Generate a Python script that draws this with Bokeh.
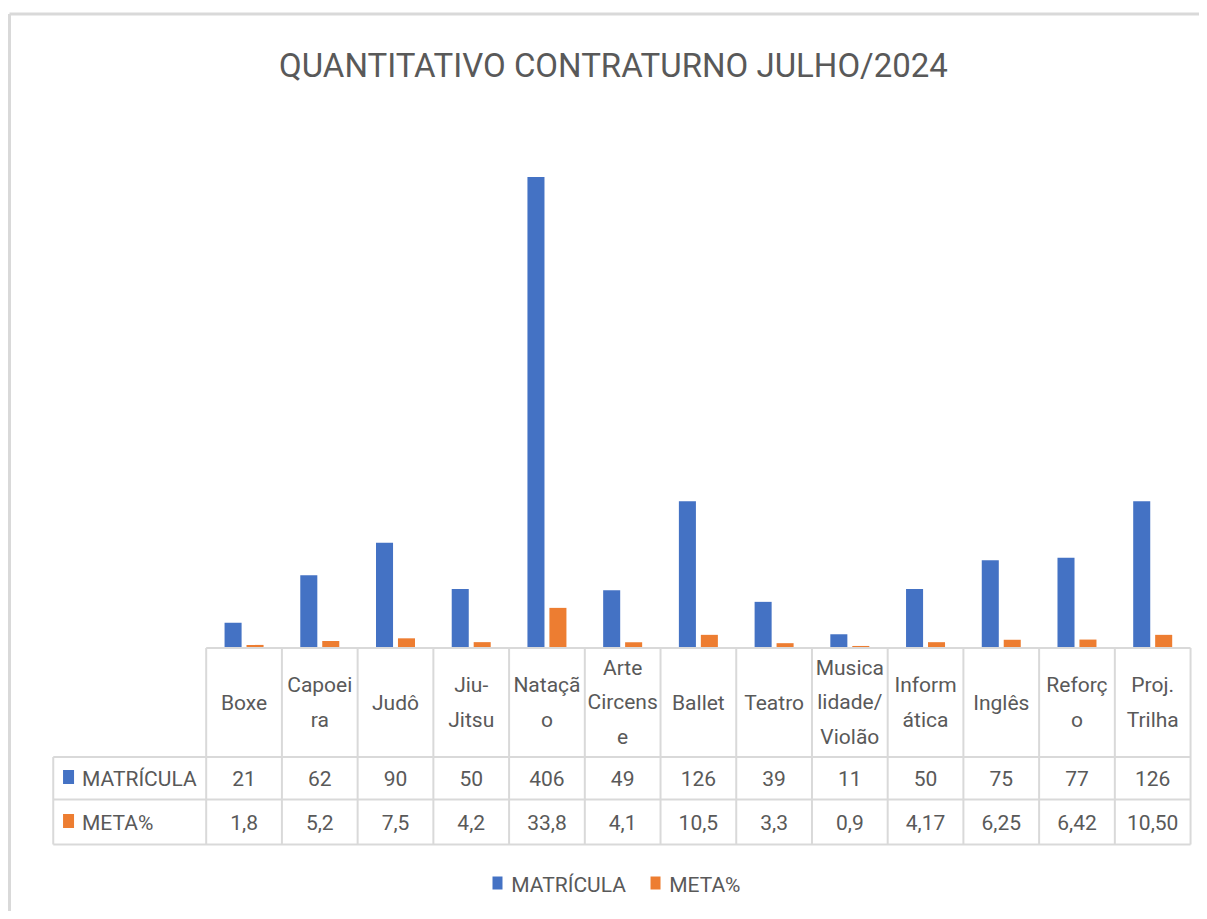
from bokeh.plotting import figure
from bokeh.models import Range1d
from bokeh.core.properties import value
from bokeh.embed import file_html
from bokeh.resources import INLINE

# ---------------- data ----------------
title_text = "QUANTITATIVO CONTRATURNO JULHO/2024"
categories = ["Boxe", "Capoeira", "Judô", "Jiu-Jitsu", "Natação", "Arte Circense",
              "Ballet", "Teatro", "Musicalidade/Violão", "Informática", "Inglês",
              "Reforço", "Proj. Trilha"]
header_labels = ["Boxe", "Capoei\nra", "Judô", "Jiu-\nJitsu", "Nataçã\no",
                 "Arte\nCircens\ne", "Ballet", "Teatro", "Musica\nlidade/\nViolão",
                 "Inform\nática", "Inglês", "Reforç\no", "Proj.\nTrilha"]
matricula = [21, 62, 90, 50, 406, 49, 126, 39, 11, 50, 75, 77, 126]
meta = [1.8, 5.2, 7.5, 4.2, 33.8, 4.1, 10.5, 3.3, 0.9, 4.17, 6.25, 6.42, 10.50]
matricula_text = [str(v) for v in matricula]
meta_text = ["1,8", "5,2", "7,5", "4,2", "33,8", "4,1", "10,5", "3,3", "0,9",
             "4,17", "6,25", "6,42", "10,50"]
series = ["MATRÍCULA", "META%"]
colors = ["#4472C4", "#ED7D31"]

# ---------------- layout ----------------
W, H = 1199, 911
COL = 75.72          # px per category column
X0 = 205.7           # px from left edge to first category column
BASE = 646.5         # px from top to the value baseline
PXU = 1.1576         # px per value unit
TXT = "#595959"
GRID = "#D9D9D9"
FONT = value("Roboto")

p = figure(width=W, height=H, output_backend="svg", toolbar_location=None,
           x_range=Range1d(-X0 / COL, (W - X0) / COL),
           y_range=Range1d(-(H - BASE) / PXU, BASE / PXU),
           min_border=0, min_border_left=0, min_border_right=0,
           min_border_top=0, min_border_bottom=0)
p.extra_y_ranges = {"tbl": Range1d(-(H - BASE), BASE)}
p.axis.visible = False
p.xgrid.visible = False
p.ygrid.visible = False
p.outline_line_color = None
p.background_fill_color = "white"
p.border_fill_color = "white"

n = len(categories)
idx = list(range(n))

# chart frame border (top and left)
xl = (9 - X0) / COL
p.segment(x0=[xl, xl], y0=[633, 633], x1=[xl, (W + 20 - X0) / COL],
          y1=[-(H - BASE) - 10, 633],
          y_range_name="tbl", line_color=GRID, line_width=3)

# bars
off = 0.145
bw = 0.225
p.vbar(x=[i + 0.5 - off for i in idx], top=matricula, bottom=0, width=bw,
       fill_color=colors[0], line_color=None)
p.vbar(x=[i + 0.5 + off for i in idx], top=meta, bottom=0, width=bw,
       fill_color=colors[1], line_color=None)

# data table grid
tx_left = -2.02
y_top, y_h, y_r1, y_bot = -1, -110, -152.5, -197.5
hx0 = [0, tx_left, tx_left, tx_left]
hx1 = [n, n, n, n]
hy = [y_top, y_h, y_r1, y_bot]
p.segment(x0=hx0, y0=hy, x1=hx1, y1=hy, y_range_name="tbl",
          line_color=GRID, line_width=2)
vx = list(range(n + 1))
p.segment(x0=vx, y0=[y_top] * (n + 1), x1=vx, y1=[y_bot] * (n + 1),
          y_range_name="tbl", line_color=GRID, line_width=2)
p.segment(x0=[tx_left], y0=[y_h], x1=[tx_left], y1=[y_bot],
          y_range_name="tbl", line_color=GRID, line_width=2)

cx = [i + 0.5 for i in idx]
p.text(x=cx, y=[-55.5] * n, text=header_labels, y_range_name="tbl",
       text_align="center", text_baseline="middle", text_font=FONT,
       text_font_size="21px", text_color=TXT, text_line_height=1.42)
p.text(x=cx, y=[-131.5] * n, text=matricula_text, y_range_name="tbl",
       text_align="center", text_baseline="middle", text_font=FONT,
       text_font_size="21px", text_color=TXT)
p.text(x=cx, y=[-175.5] * n, text=meta_text, y_range_name="tbl",
       text_align="center", text_baseline="middle", text_font=FONT,
       text_font_size="21px", text_color=TXT)

# row headers
p.rect(x=[-1.818, -1.818], y=[-130, -174], width=11, height=14,
       width_units="screen", height_units="screen", y_range_name="tbl",
       fill_color=colors, line_color=None)
p.text(x=[-1.64, -1.64], y=[-131.5, -175.5], text=series, y_range_name="tbl",
       text_align="left", text_baseline="middle", text_font=FONT,
       text_font_size="21px", text_color=TXT)

# legend
p.rect(x=[3.847, 5.934], y=[-236, -236], width=10, height=13,
       width_units="screen", height_units="screen", y_range_name="tbl",
       fill_color=colors, line_color=None)
p.text(x=[4.03, 6.115], y=[-237.5, -237.5], text=series, y_range_name="tbl",
       text_align="left", text_baseline="middle", text_font=FONT,
       text_font_size="21px", text_color=TXT)

# title
p.text(x=[5.379], y=[581.5], text=[title_text], y_range_name="tbl",
       text_align="center", text_baseline="middle", text_font=FONT,
       text_font_size="33px", text_color=TXT)

open("out.html", "w").write(file_html(p, INLINE))
